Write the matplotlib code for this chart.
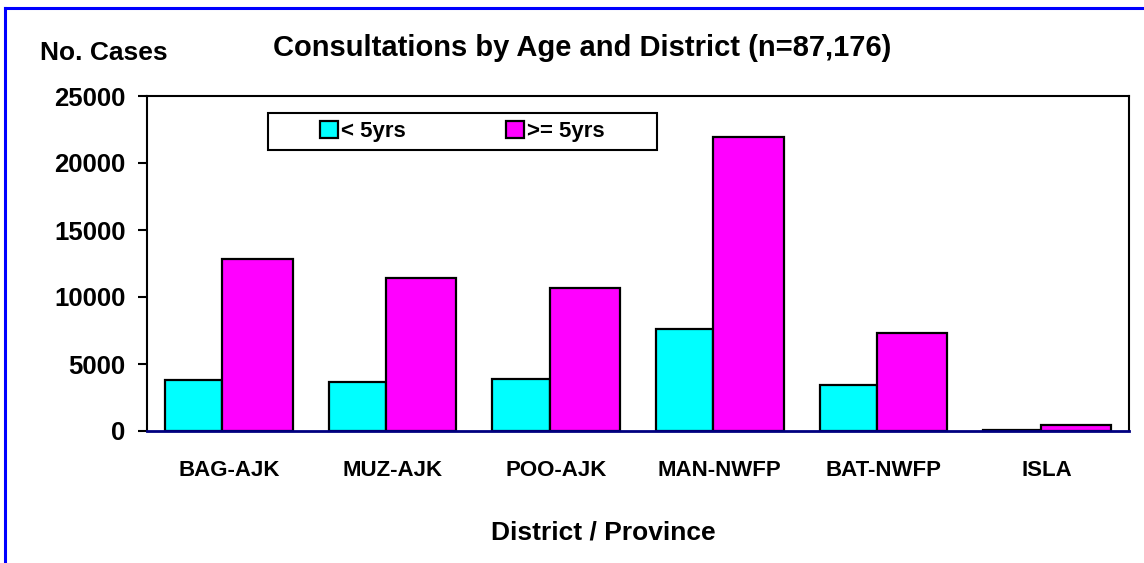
import matplotlib.pyplot as plt
import numpy as np
from matplotlib.patches import Rectangle
from matplotlib.lines import Line2D

districts = ["BAG-AJK", "MUZ-AJK", "POO-AJK", "MAN-NWFP", "BAT-NWFP", "ISLA"]
under5 = [3800, 3650, 3850, 7600, 3450, 100]
over5 = [12800, 11450, 10700, 21950, 7300, 450]
yticks = [0, 5000, 10000, 15000, 20000, 25000]

plt.rcParams['font.family'] = ['Liberation Sans', 'DejaVu Sans']
plt.rcParams['font.weight'] = 'bold'

W, H = 1144, 563
fig = plt.figure(figsize=(W / 100, H / 100), dpi=100)
ax = fig.add_axes([147 / W, 1 - 431 / H, (1129 - 147) / W, (431 - 96) / H])

# bars (Excel-style: cyan narrower than magenta)
x = np.arange(len(districts))
ax.bar(x - 0.39, under5, width=0.35, align='edge', color='#00FFFF',
       edgecolor='black', linewidth=1.6, label='< 5yrs')
ax.bar(x - 0.04, over5, width=0.43, align='edge', color='#FF00FF',
       edgecolor='black', linewidth=1.6, label='>= 5yrs')

ax.set_xlim(-0.5, 5.5)
ax.set_ylim(0, 25000)
ax.set_yticks(yticks)
ax.set_yticklabels([str(v) for v in yticks], fontsize=18.5, fontweight='bold')
ax.set_xticks(x)
ax.set_xticklabels(districts, fontsize=16, fontweight='bold')
ax.tick_params(axis='y', length=6.5, width=1.5, pad=9)
ax.tick_params(axis='x', length=0, pad=21)

for s in ['left', 'top', 'right']:
    ax.spines[s].set_color('black')
    ax.spines[s].set_linewidth(1.5)
ax.spines['bottom'].set_color('#000080')
ax.spines['bottom'].set_linewidth(2)
ax.spines['bottom'].set_zorder(5)

# legend box
box = Rectangle((268 / W, 1 - 150 / H), (657 - 268) / W, 37 / H,
                transform=fig.transFigure, facecolor='white',
                edgecolor='black', linewidth=1.5, zorder=4)
fig.add_artist(box)
fig.legend(loc='center', bbox_to_anchor=(462.5 / W, 1 - 131.5 / H), ncol=2,
           frameon=False, prop={'size': 16, 'weight': 'bold'},
           handlelength=0.8, handleheight=0.8, handletextpad=0.15,
           columnspacing=4.5)

fig.text(582 / W, 1 - 48 / H, "Consultations by Age and District (n=87,176)",
         ha='center', va='center', fontsize=21, fontweight='bold')
fig.text(104 / W, 1 - 53 / H, "No. Cases", ha='center', va='center',
         fontsize=19, fontweight='bold')
fig.text(603 / W, 1 - 532 / H, "District / Province", ha='center',
         va='center', fontsize=19, fontweight='bold')

# blue outer border (top and left visible)
fig.add_artist(Line2D([5 / W, 5 / W], [0, 1 - 8 / H], color='#0000FF',
                      linewidth=2.2, transform=fig.transFigure))
fig.add_artist(Line2D([5 / W, 1], [1 - 8 / H, 1 - 8 / H], color='#0000FF',
                      linewidth=2.2, transform=fig.transFigure))

fig.savefig("out.png", dpi=100)
